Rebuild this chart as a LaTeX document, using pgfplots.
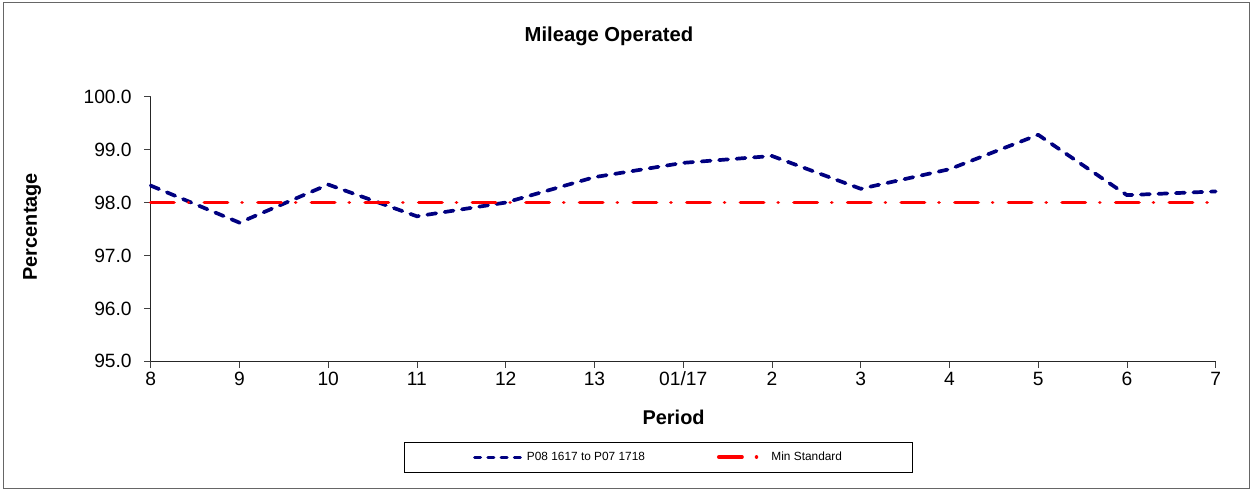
\documentclass[border=0pt]{standalone}
\usepackage{pgfplots}
\pgfplotsset{compat=1.18}
\usepackage{fontspec}
\setmainfont{Liberation Sans}
\definecolor{navyline}{RGB}{0,0,128}
\definecolor{redline}{RGB}{255,0,0}
\begin{document}
\begin{tikzpicture}
\begin{axis}[
  at={(0,0)}, anchor=south west,
  scale only axis,
  width=1065bp, height=264.6bp,
  xmin=0, xmax=12, ymin=95, ymax=100,
  axis x line*=bottom, axis y line*=left,
  axis line style={black!85, line width=0.9bp},
  tick style={black!75, line width=0.9bp},
  tick align=outside,
  major tick length=6.5bp,
  xtick={0,1,2,3,4,5,6,7,8,9,10,11,12},
  xticklabels={8,9,10,11,12,13,01/17,2,3,4,5,6,7},
  ytick={95,96,97,98,99,100},
  /pgf/number format/assume math mode=true,
  yticklabel style={/pgf/number format/fixed, /pgf/number format/fixed zerofill, /pgf/number format/precision=1, xshift=-9bp},
  ticklabel style={font=\fontsize{19.3}{19.3}\selectfont},
  xticklabel style={anchor=base, yshift=-17.5bp},
  title={Mileage Operated},
  title style={font=\fontsize{20.3}{20.3}\selectfont\bfseries, at={(rel axis cs:0.4303,1.1867)}, anchor=base},
  xlabel={Period},
  xlabel style={font=\fontsize{20}{20}\selectfont\bfseries, at={(rel axis cs:0.491,-0.237)}, anchor=base},
  ylabel={Percentage},
  ylabel style={font=\fontsize{20}{20}\selectfont\bfseries, at={(rel axis cs:-0.1113,0.5087)}, anchor=center},
  clip=false,
  legend columns=2,
  legend style={at={(rel axis cs:0.4768,-0.3617)}, anchor=center, draw=black, line width=0.9bp,
    font=\fontsize{11.9}{11.9}\selectfont, inner xsep=68.5bp, inner ysep=8bp,
    /tikz/every odd column/.append style={column sep=3bp},
    /tikz/every even column/.append style={column sep=70bp}},
  legend image code/.code={\draw[#1] (0bp,0bp) -- (46bp,0bp);},
]
\addlegendimage{navyline, line width=3bp, line cap=round, dash pattern=on 6bp off 7.3bp}
\addlegendentry{P08 1617 to P07 1718}
\addlegendimage{redline, line width=3.5bp, line cap=round, dash pattern=on 23.3bp off 14.45bp on 0.01bp off 15.85bp}
\addlegendentry{Min Standard}
\addplot[forget plot, navyline, line width=3.7bp, line cap=round, line join=round, dash pattern=on 9bp off 8.5bp] coordinates {
(0,98.32) (1,97.62) (2,98.34) (3,97.74) (4,98.00) (5,98.48) (6,98.75) (7,98.88) (8,98.26) (9,98.63) (10,99.28) (11,98.14) (12,98.21)};
\addplot[forget plot, redline, line width=3.7bp, line cap=round, dash pattern=on 23.3bp off 14.45bp on 0.01bp off 15.85bp] coordinates {
(0,98) (1,98) (2,98) (3,98) (4,98) (5,98) (6,98) (7,98) (8,98) (9,98) (10,98) (11,98) (12,98)};
\end{axis}
\draw[black!60, line width=1bp] (-146.7bp,-126.7bp) rectangle (1098.3bp,358.3bp);
\pgfresetboundingbox
\useasboundingbox (-150.7bp,-129.7bp) rectangle (1100.3bp,361.3bp);
\end{tikzpicture}
\end{document}
